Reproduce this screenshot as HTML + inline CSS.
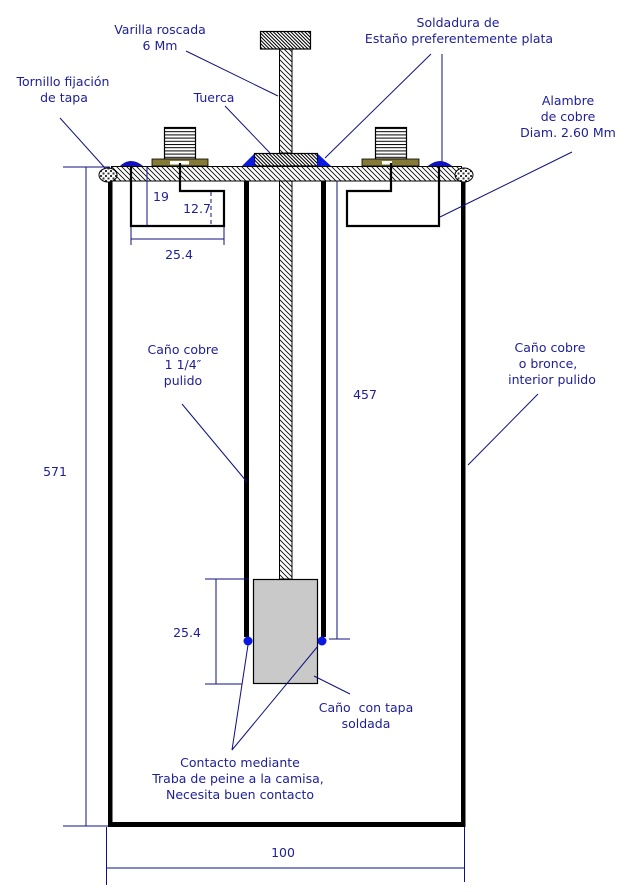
<!DOCTYPE html>
<html>
<head>
<meta charset="utf-8">
<style>
html,body{margin:0;padding:0;background:#fff;}
svg{display:block;}
text{font-family:"DejaVu Sans","Liberation Sans",sans-serif;font-size:12.5px;fill:#1e1e96;}
</style>
</head>
<body>
<svg width="629" height="892" viewBox="0 0 629 892" xmlns="http://www.w3.org/2000/svg">
<defs>
  <pattern id="hatch" patternUnits="userSpaceOnUse" width="5" height="5">
    <rect width="5" height="5" fill="#fff"/>
    <path d="M0,0 L5,5 M-1,4 L1,6 M4,-1 L6,1" stroke="#000" stroke-width="0.8"/>
  </pattern>
  <pattern id="hatchd" patternUnits="userSpaceOnUse" width="3.5" height="3.5">
    <rect width="3.5" height="3.5" fill="#fff"/>
    <path d="M0,0 L3.5,3.5 M-1,2.5 L1,4.5 M2.5,-1 L4.5,1" stroke="#000" stroke-width="1"/>
  </pattern>
  <pattern id="stripes" patternUnits="userSpaceOnUse" width="4" height="3.2">
    <rect width="4" height="3.2" fill="#fff"/>
    <line x1="0" y1="0.5" x2="4" y2="0.5" stroke="#000" stroke-width="1"/>
  </pattern>
  <pattern id="checker" patternUnits="userSpaceOnUse" width="5" height="5">
    <rect width="5" height="5" fill="#fff"/>
    <rect width="2" height="2" fill="#333"/>
    <rect x="2.5" y="2.5" width="2" height="2" fill="#333"/>
  </pattern>
</defs>

<!-- outer container walls -->
<rect x="108" y="172" width="4.5" height="655" fill="#000"/>
<rect x="461" y="172" width="4.5" height="655" fill="#000"/>
<rect x="108" y="822" width="357.5" height="5" fill="#000"/>

<!-- inner pipe walls -->
<rect x="244" y="181" width="5" height="456" fill="#000"/>
<rect x="321" y="181" width="5" height="456" fill="#000"/>

<!-- rod lower part -->
<rect x="279.5" y="181" width="12.5" height="398" fill="url(#hatch)" stroke="#000" stroke-width="1"/>

<!-- weight -->
<rect x="253.5" y="579.5" width="64" height="104" fill="#c9c9c9" stroke="#000" stroke-width="1.2"/>

<!-- contact dots -->
<circle cx="248" cy="641" r="4.5" fill="#0a18e0"/>
<circle cx="322" cy="641" r="4.5" fill="#0a18e0"/>

<!-- lid -->
<rect x="111.5" y="166.5" width="350" height="14.5" fill="url(#hatch)" stroke="#000" stroke-width="1"/>

<!-- tornillos -->
<ellipse cx="108" cy="175" rx="9" ry="7" fill="url(#checker)" stroke="#000" stroke-width="1"/>
<ellipse cx="464" cy="175" rx="9" ry="7" fill="url(#checker)" stroke="#000" stroke-width="1"/>

<!-- rod upper part -->
<rect x="279.5" y="49" width="12.5" height="104" fill="url(#hatch)" stroke="#000" stroke-width="1"/>
<!-- top knob -->
<rect x="260.5" y="31.5" width="50" height="17.5" fill="url(#hatchd)" stroke="#000" stroke-width="1.2"/>
<!-- nut -->
<rect x="254.5" y="153.5" width="63" height="12.5" fill="url(#hatchd)" stroke="#000" stroke-width="1.2"/>
<!-- solder triangles -->
<polygon points="242,166 254,154 255,166" fill="#0a18e0"/>
<polygon points="318,154 331,166 317,166" fill="#0a18e0"/>

<!-- left connector -->
<rect x="164.5" y="127.5" width="31" height="31.5" fill="url(#stripes)" stroke="#000" stroke-width="1.2"/>
<rect x="152" y="159" width="56" height="7" fill="#857a35" stroke="#000" stroke-width="0.8"/>
<rect x="170" y="161" width="19" height="3.5" fill="#fff"/>
<!-- right connector -->
<rect x="375.5" y="127.5" width="31" height="31.5" fill="url(#stripes)" stroke="#000" stroke-width="1.2"/>
<rect x="362" y="159" width="57" height="7" fill="#857a35" stroke="#000" stroke-width="0.8"/>
<rect x="382" y="161" width="10" height="3.5" fill="#fff"/>

<!-- domes -->
<path d="M120,166 Q131,156 143,166 Z" fill="#1010c0"/>
<path d="M428,166 Q440,156 452,166 Z" fill="#1010c0"/>

<!-- wire loops -->
<polyline points="180,163 180,191 224,191 224,226 131,226 131,166" fill="none" stroke="#000" stroke-width="2.2"/>
<polyline points="391,163 391,191 347,191 347,226 439,226 439,166" fill="none" stroke="#000" stroke-width="2.2"/>

<!-- dimension lines -->
<g stroke="#101080" stroke-width="1" fill="none">
  <line x1="147" y1="166" x2="147" y2="226"/>
  <line x1="211" y1="192" x2="211" y2="226" stroke-dasharray="4,3"/>
  <line x1="131" y1="239" x2="224" y2="239"/>
  <line x1="131" y1="227" x2="131" y2="245"/>
  <line x1="224" y1="227" x2="224" y2="245"/>
  <line x1="86" y1="167" x2="86" y2="826"/>
  <line x1="63" y1="167" x2="110" y2="167"/>
  <line x1="63" y1="826" x2="108" y2="826"/>
  <line x1="106" y1="868" x2="465" y2="868"/>
  <line x1="106.5" y1="827" x2="106.5" y2="885"/>
  <line x1="464.5" y1="827" x2="464.5" y2="882"/>
  <line x1="337" y1="181" x2="337" y2="639"/>
  <line x1="329" y1="639" x2="350" y2="639"/>
  <line x1="216" y1="579" x2="216" y2="684"/>
  <line x1="205" y1="579" x2="249" y2="579"/>
  <line x1="205" y1="684" x2="242" y2="684"/>
</g>

<!-- leader lines -->
<g stroke="#101080" stroke-width="1" fill="none">
  <line x1="186" y1="51" x2="278" y2="96"/>
  <line x1="225" y1="106" x2="270" y2="153"/>
  <line x1="431" y1="54" x2="325" y2="158"/>
  <line x1="442" y1="54" x2="442" y2="162"/>
  <line x1="572" y1="152" x2="440" y2="217"/>
  <line x1="60" y1="118" x2="105" y2="168"/>
  <line x1="182" y1="404" x2="247" y2="482"/>
  <line x1="538" y1="394" x2="468" y2="465"/>
  <line x1="314" y1="676" x2="350" y2="694"/>
  <line x1="232" y1="750" x2="248" y2="645"/>
  <line x1="232" y1="750" x2="318" y2="646"/>
</g>

<!-- labels -->
<g text-anchor="middle">
  <text x="160" y="34">Varilla roscada</text>
  <text x="160" y="50">6 Mm</text>
  <text x="214" y="102">Tuerca</text>
  <text x="458" y="27">Soldadura de</text>
  <text x="459" y="43">Estaño preferentemente plata</text>
  <text x="568" y="105">Alambre</text>
  <text x="568" y="121">de cobre</text>
  <text x="568" y="137">Diam. 2.60 Mm</text>
  <text x="63" y="86">Tornillo fijación</text>
  <text x="64" y="102">de tapa</text>
  <text x="161" y="201">19</text>
  <text x="197" y="213">12.7</text>
  <text x="179" y="259">25.4</text>
  <text x="183" y="354">Caño cobre</text>
  <text x="183" y="369">1 1/4″</text>
  <text x="183" y="385">pulido</text>
  <text x="365" y="399">457</text>
  <text x="550" y="352">Caño cobre</text>
  <text x="548" y="368">o bronce,</text>
  <text x="552" y="384">interior pulido</text>
  <text x="55" y="476">571</text>
  <text x="187" y="637">25.4</text>
  <text x="366" y="712">Caño&#160; con tapa</text>
  <text x="366" y="728">soldada</text>
  <text x="240" y="767">Contacto mediante</text>
  <text x="238" y="783">Traba de peine a la camisa,</text>
  <text x="240" y="799">Necesita buen contacto</text>
  <text x="283" y="857">100</text>
</g>
</svg>
</body>
</html>
